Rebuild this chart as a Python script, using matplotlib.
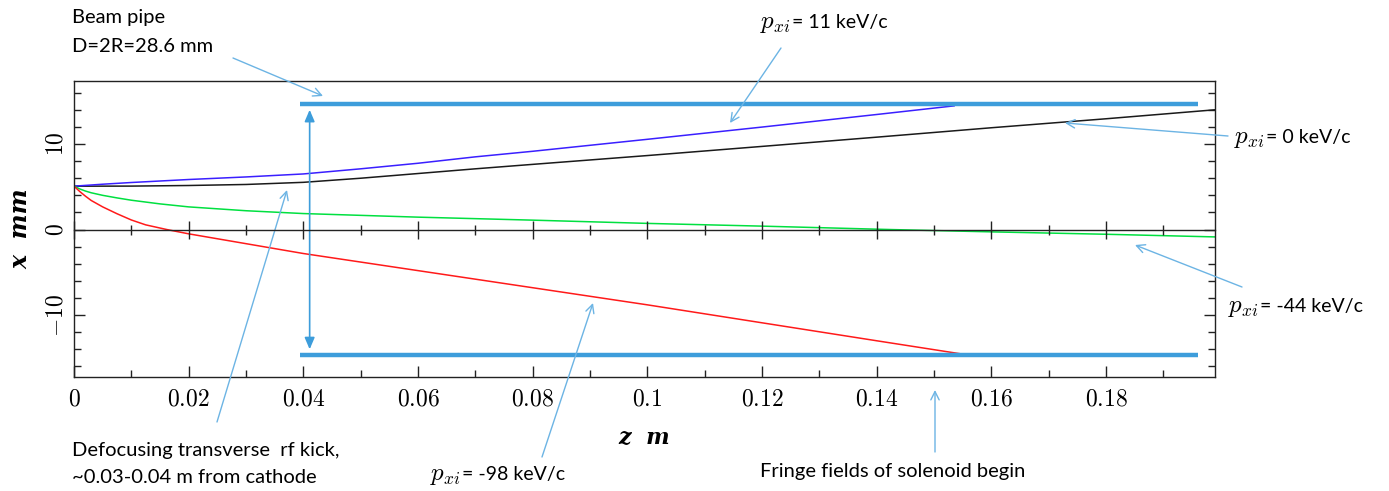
import numpy as np
import matplotlib
matplotlib.use("Agg")
import matplotlib.pyplot as plt
from matplotlib.ticker import MultipleLocator, FuncFormatter

plt.rcParams['mathtext.fontset'] = 'cm'

# trajectories, z in m, x in mm
z_p0 = [0, 0.01, 0.02, 0.03, 0.04, 0.05, 0.06, 0.07, 0.08, 0.1, 0.12, 0.14, 0.16, 0.18, 0.199]
x_p0 = [5.07, 5.08, 5.15, 5.27, 5.52, 6.0, 6.55, 7.1, 7.62, 8.65, 9.72, 10.8, 11.9, 12.95, 14.0]

z_p11 = [0, 0.005, 0.01, 0.02, 0.03, 0.04, 0.05, 0.06, 0.07, 0.08, 0.1, 0.12, 0.14, 0.1535]
x_p11 = [5.07, 5.3, 5.5, 5.85, 6.15, 6.5, 7.1, 7.75, 8.5, 9.15, 10.55, 11.98, 13.45, 14.46]

z_m44 = [0, 0.001, 0.002, 0.003, 0.005, 0.0075, 0.01, 0.015, 0.02, 0.03, 0.04, 0.06, 0.08, 0.1,
         0.12, 0.1425, 0.16, 0.18, 0.199]
x_m44 = [5.07, 4.75, 4.5, 4.3, 4.0, 3.7, 3.43, 3.0, 2.65, 2.2, 1.87, 1.45, 1.1, 0.72,
         0.4, 0.0, -0.27, -0.55, -0.86]

z_m98 = [0, 0.001, 0.002, 0.003, 0.005, 0.0075, 0.01, 0.0125, 0.0162, 0.02, 0.03, 0.04, 0.05,
         0.06, 0.07, 0.08, 0.1, 0.12, 0.14, 0.1544]
x_m98 = [5.07, 4.45, 3.9, 3.4, 2.65, 1.85, 1.12, 0.55, 0.0, -0.5, -1.65, -2.8, -3.8,
         -4.8, -5.8, -6.8, -8.8, -10.9, -13.0, -14.5]

# beam pipe as drawn
pipe_z = [0.0395, 0.1961]
pipe_r = 14.7
kick_z = 0.0411
kick_r = 14.0

W, H = 1389, 491
pipe_col = '#3d9ddb'
note_col = '#6cb4e4'
sans = 'Lato'


def fp(px, py):
    # pixel position from top-left -> figure fraction
    return px / W, 1 - py / H


fig = plt.figure(figsize=(W / 100, H / 100), dpi=100)
ax = fig.add_axes([74 / W, 1 - 376.7 / H, (1215 - 74) / W, (376.7 - 80.7) / H])

ax.plot(z_p0, x_p0, color='#1a1a1a', lw=1.1)
ax.plot(z_p11, x_p11, color='#3a1fff', lw=1.1)
ax.plot(z_m44, x_m44, color='#00e040', lw=1.1)
ax.plot(z_m98, x_m98, color='#ff1a1a', lw=1.1)

ax.plot(pipe_z, [pipe_r, pipe_r], color=pipe_col, lw=3.2, solid_capstyle='butt')
ax.plot(pipe_z, [-pipe_r, -pipe_r], color=pipe_col, lw=3.2, solid_capstyle='butt')
ax.annotate('', xy=(kick_z, -kick_r), xytext=(kick_z, kick_r),
            arrowprops=dict(arrowstyle='<|-|>,head_length=0.7,head_width=0.3',
                            color=pipe_col, lw=1.2, shrinkA=0, shrinkB=0))

ax.set_xlim(0, 0.199)
ax.set_ylim(-17.2, 17.4)
ax.xaxis.set_major_locator(MultipleLocator(0.02))
ax.xaxis.set_minor_locator(MultipleLocator(0.01))
ax.yaxis.set_major_locator(MultipleLocator(10))
ax.yaxis.set_minor_locator(MultipleLocator(2))
fmt = FuncFormatter(lambda v, p: '$%g$' % round(v, 4))
ax.xaxis.set_major_formatter(fmt)
ax.yaxis.set_major_formatter(fmt)
ax.tick_params(which='both', direction='in', top=True, right=True, width=1.0, color='#222222')
ax.tick_params(which='major', length=8, labelsize=17, pad=7)
ax.tick_params(which='minor', length=5)
ax.tick_params(axis='y', labelrotation=90, pad=5)
for lab in ax.get_yticklabels():
    lab.set_va('center')
for s in ax.spines.values():
    s.set_linewidth(1.0)
    s.set_color('#222222')

ax.set_xlabel('z  m', family='DejaVu Serif', style='italic', weight='bold', fontsize=16, labelpad=12)
ax.set_ylabel('x  mm', family='DejaVu Serif', style='italic', weight='bold', fontsize=17, labelpad=8)

# zero axis with crossing ticks
ax0 = ax.twiny()
ax0.set_xlim(ax.get_xlim())
ax0.xaxis.set_major_locator(MultipleLocator(0.02))
ax0.xaxis.set_minor_locator(MultipleLocator(0.01))
ax0.spines['bottom'].set_position(('data', 0))
for k in ['top', 'left', 'right']:
    ax0.spines[k].set_visible(False)
ax0.spines['bottom'].set_linewidth(1.0)
ax0.spines['bottom'].set_color('#222222')
ax0.xaxis.set_ticks_position('bottom')
ax0.tick_params(which='both', direction='inout', labelbottom=False, labeltop=False, width=1.0, color='#222222')
ax0.tick_params(which='major', length=13)
ax0.tick_params(which='minor', length=7)

# notes
arrow = dict(arrowstyle='->,head_length=0.6,head_width=0.3', color=note_col, lw=1.0, shrinkA=0, shrinkB=0)
big = 14.5
small = 14


def p_label(px, py, rest):
    # large italic p_xi followed by the sans text on the same baseline
    t = fig.text(*fp(px, py), r'$p_{xi}$', fontsize=18, va='baseline')
    fig.canvas.draw()
    bb = t.get_window_extent()
    fig.text(bb.x1 / W + 1 / W, 1 - py / H, rest, family=sans, fontsize=small, va='baseline')


fig.text(*fp(72, 23.5), 'Beam pipe', family=sans, fontsize=big, va='baseline')
fig.text(*fp(72, 52.5), 'D=2R=28.6 mm', family=sans, fontsize=big, va='baseline')
ax.annotate('', xy=fp(323, 96), xycoords='figure fraction', xytext=fp(233, 58),
            textcoords='figure fraction', arrowprops=arrow)

p_label(760, 28, '= 11 keV/c')
ax.annotate('', xy=fp(730, 123), xycoords='figure fraction', xytext=fp(781, 48),
            textcoords='figure fraction', arrowprops=arrow)

p_label(1234, 143, '= 0 keV/c')
ax.annotate('', xy=fp(1065, 123), xycoords='figure fraction', xytext=fp(1228, 136),
            textcoords='figure fraction', arrowprops=arrow)

p_label(1228, 312, '= -44 keV/c')
ax.annotate('', xy=fp(1135, 245), xycoords='figure fraction', xytext=fp(1242, 287),
            textcoords='figure fraction', arrowprops=arrow)

p_label(430, 480, '= -98 keV/c')
ax.annotate('', xy=fp(593, 303), xycoords='figure fraction', xytext=fp(542, 457),
            textcoords='figure fraction', arrowprops=arrow)

fig.text(*fp(72, 456), 'Defocusing transverse  rf kick,', family=sans, fontsize=big, va='baseline')
fig.text(*fp(72, 483), '~0.03-0.04 m from cathode', family=sans, fontsize=big, va='baseline')
ax.annotate('', xy=fp(287, 190), xycoords='figure fraction', xytext=fp(217, 422),
            textcoords='figure fraction', arrowprops=arrow)

fig.text(*fp(760, 477), 'Fringe fields of solenoid begin', family=sans, fontsize=big, va='baseline')
ax.annotate('', xy=fp(935, 390), xycoords='figure fraction', xytext=fp(935, 452),
            textcoords='figure fraction', arrowprops=arrow)

fig.savefig('out.png', dpi=100)
